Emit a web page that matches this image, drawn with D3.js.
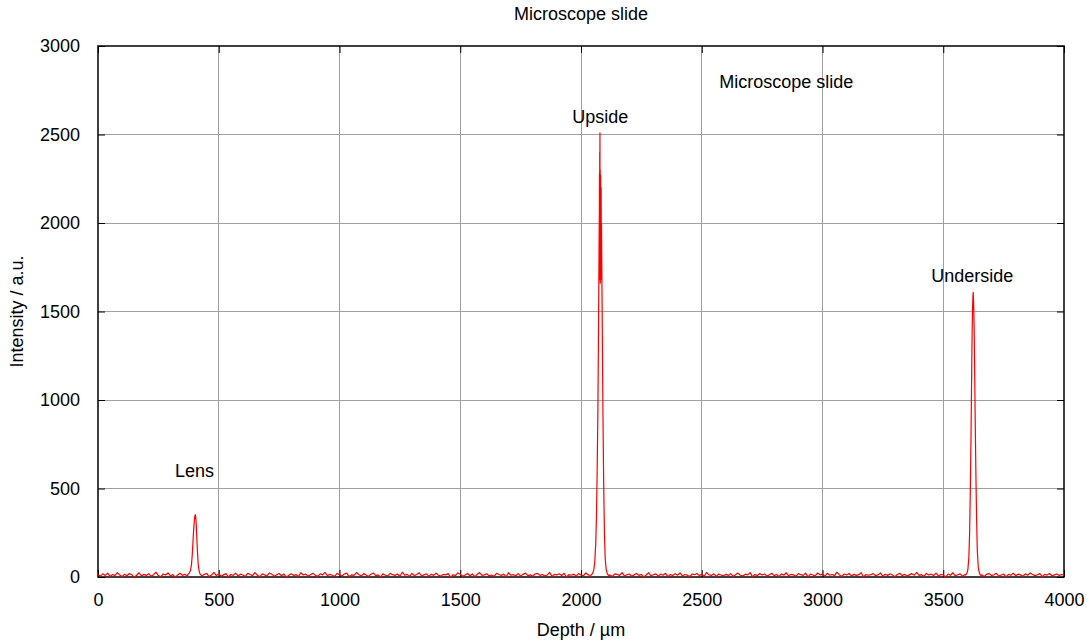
<!DOCTYPE html>
<html>
<head>
<meta charset="utf-8">
<script src="https://cdn.jsdelivr.net/npm/d3@7/dist/d3.min.js"></script>
<style>
  html, body { margin: 0; padding: 0; background: #fff; }
  svg text { font-family: "Liberation Sans", Arial, Helvetica, sans-serif; fill: #000; }
</style>
</head>
<body>
<svg id="chart" width="1087" height="643"></svg>
<script>
// ---------- DATA ----------
const chartTitle = "Microscope slide";
const xLabel = "Depth / µm";
const yLabel = "Intensity / a.u.";
const xTicks = [0, 500, 1000, 1500, 2000, 2500, 3000, 3500, 4000];
const yTicks = [0, 500, 1000, 1500, 2000, 2500, 3000];

// baseline noise, one reading every 10 µm from 0 to 4000 µm
const baselineStep = 10;
const baselineIntensity = [
  12, 5, 18, 9, 22, 3, 14, 8, 25, 11, 2, 16, 7, 20, 13, -3, 10, 24, 6, 15,
  9, 19, 4, 13, 27, 8, 1, 17, 11, 23, 6, 14, -2, 12, 21, 9, 16, 3, 18, 10,
  7, 24, 13, 5, 15, 20, 2, 11, 26, 8, 17, 4, 12, 19, 0, 14, 9, 22, 6, 16,
  11, 3, 21, 14, 8, 25, 10, 1, 18, 12, 6, 23, 15, 4, 13, 20, 7, 17, -1, 10,
  19, 8, 14, 2, 24, 11, 16, 5, 13, 21, 9, 3, 18, 12, 26, 7, 15, 10, 4, 20,
  13, 6, 17, 22, 1, 12, 9, 25, 14, 5, 19, 11, 3, 16, 23, 8, 12, 0, 18, 10,
  6, 21, 13, 9, 17, 4, 27, 11, 15, 2, 20, 8, 14, 24, 6, 12, 18, 3, 16, 9,
  22, 10, 5, 15, 12, 19, -2, 13, 8, 23, 16, 4, 11, 20, 7, 17, 2, 14, 25, 9,
  12, 18, 6, 11, 3, 21, 14, 9, 16, 1, 24, 10, 13, 7, 19, 5, 15, 22, 8, 12,
  4, 17, 20, 9, 14, 6, 11, 26, 3, 15, 12, 18, 8, 21, 0, 13, 10, 16, 5, 19,
  11, 7, 23, 13, 2, 16, 10, 19, 5, 14, 22, 8, 12, 3, 18, 15, 9, 25, 6, 13,
  17, 4, 12, 20, 9, 15, -1, 11, 24, 7, 13, 18, 5, 16, 10, 21, 2, 14, 8, 19,
  10, 23, 6, 14, 11, 1, 17, 13, 20, 8, 15, 4, 26, 12, 9, 18, 3, 16, 11, 7,
  15, 9, 19, 3, 13, 22, 10, 6, 16, 12, 25, 2, 14, 8, 20, 11, 17, 5, 13, 21,
  8, 14, 2, 18, 10, 24, 7, 15, 12, 4, 19, 13, 9, 22, 1, 16, 11, 6, 23, 12,
  16, 5, 21, 10, 14, 8, 27, 12, 3, 17, 11, 20, 6, 15, 9, 13, 24, 0, 14, 10,
  13, 19, 7, 12, 23, 4, 16, 9, 18, 11, 2, 14, 21, 8, 15, 5, 12, 19, 10, 26,
  9, 13, 3, 20, 11, 16, 8, 22, 6, 14, 12, -2, 17, 10, 24, 7, 13, 18, 4, 15,
  20, 11, 6, 14, 9, 25, 12, 3, 16, 19, 8, 13, 21, 5, 11, 17, 1, 15, 10, 22,
  7, 16, 12, 4, 18, 10, 23, 14, 8, 13, 19, 2, 15, 11, 20, 6, 12, 17, 9, 14,
  11
];

// peak regions (depth µm, intensity)
const lensDepth     = [372, 378, 383, 387, 390, 393, 396, 399, 401, 403, 405, 407, 409, 412, 415, 419, 423, 428];
const lensIntensity = [14, 22, 38, 70, 120, 190, 265, 320, 345, 352, 335, 290, 225, 140, 70, 32, 16, 9];

const upsideDepth     = [2042, 2048, 2053, 2057, 2061, 2064, 2067, 2070, 2072, 2074, 2075, 2076, 2076.5, 2077, 2077.5, 2078, 2078.5, 2079, 2079.5, 2080, 2080.5, 2081, 2081.5, 2082, 2082.5, 2083, 2083.5, 2084, 2085, 2086, 2087, 2089, 2091, 2094, 2097, 2100, 2104, 2109, 2115];
const upsideIntensity = [12, 20, 40, 85, 190, 340, 600, 950, 1300, 1700, 1900, 2050, 2280, 1720, 2400, 1680, 2510, 1700, 2300, 1660, 2250, 1700, 2270, 1680, 2150, 1750, 2200, 1850, 2000, 1800, 1600, 1250, 900, 520, 250, 110, 45, 18, 8];

const undersideDepth     = [3592, 3598, 3602, 3606, 3609, 3612, 3615, 3617, 3619, 3621, 3623, 3624, 3626, 3628, 3630, 3632, 3635, 3638, 3641, 3645, 3650, 3656];
const undersideIntensity = [11, 20, 42, 110, 240, 480, 800, 1060, 1320, 1500, 1590, 1608, 1540, 1400, 1180, 920, 600, 330, 150, 55, 20, 9];

// annotations (data coordinates)
const labelText = ["Lens", "Upside", "Underside", "Microscope slide"];
const labelX    = [400, 2080, 3620, 2850];
const labelY    = [600, 2600, 1700, 2800];

// ---------- BUILD SERIES ----------
const peakWindows = [
  [lensDepth, lensIntensity],
  [upsideDepth, upsideIntensity],
  [undersideDepth, undersideIntensity]
];
let points = [];
baselineIntensity.forEach((v, i) => {
  const d = i * baselineStep;
  const inPeak = peakWindows.some(([ds]) => d >= ds[0] && d <= ds[ds.length - 1]);
  if (!inPeak) points.push([d, v]);
});
peakWindows.forEach(([ds, vs]) => ds.forEach((d, i) => points.push([d, vs[i]])));
points.sort((a, b) => a[0] - b[0]);

// ---------- LAYOUT ----------
const svg = d3.select("#chart");
const pLeft = 98, pRight = 1064, pTop = 46, pBottom = 577;
const fontSize = 18;

const x = d3.scaleLinear().domain([0, 4000]).range([pLeft, pRight]);
const y = d3.scaleLinear().domain([0, 3000]).range([pBottom, pTop]);

// grid
const grid = svg.append("g").attr("stroke", "#a0a0a0").attr("stroke-width", 1).attr("shape-rendering", "crispEdges");
xTicks.slice(1, -1).forEach(t => {
  grid.append("line").attr("x1", x(t)).attr("x2", x(t)).attr("y1", pTop).attr("y2", pBottom);
});
yTicks.slice(1, -1).forEach(t => {
  grid.append("line").attr("x1", pLeft).attr("x2", pRight).attr("y1", y(t)).attr("y2", y(t));
});

// axes with inward ticks (mirrored)
const tickLen = 7;
const xAxisB = d3.axisBottom(x).tickValues(xTicks).tickSize(-tickLen).tickPadding(tickLen + 9).tickFormat(d3.format("d"));
const xAxisT = d3.axisTop(x).tickValues(xTicks).tickSize(-tickLen).tickFormat("");
const yAxisL = d3.axisLeft(y).tickValues(yTicks).tickSize(-tickLen).tickPadding(tickLen + 11).tickFormat(d3.format("d"));
const yAxisR = d3.axisRight(y).tickValues(yTicks).tickSize(-tickLen).tickFormat("");

function styleAxis(g) {
  g.select(".domain").remove();
  g.selectAll(".tick line").attr("stroke", "#000").attr("stroke-width", 1);
  g.selectAll(".tick text").attr("font-size", fontSize).attr("font-family", '"Liberation Sans", Arial, sans-serif').attr("fill", "#000");
}
svg.append("g").attr("transform", `translate(0,${pBottom})`).call(xAxisB).call(styleAxis);
svg.append("g").attr("transform", `translate(0,${pTop})`).call(xAxisT).call(styleAxis);
svg.append("g").attr("transform", `translate(${pLeft},0)`).call(yAxisL).call(styleAxis);
svg.append("g").attr("transform", `translate(${pRight},0)`).call(yAxisR).call(styleAxis);

// border
svg.append("rect")
  .attr("x", pLeft).attr("y", pTop)
  .attr("width", pRight - pLeft).attr("height", pBottom - pTop)
  .attr("fill", "none").attr("stroke", "#000").attr("stroke-width", 1.5);

// data line
const line = d3.line().x(d => x(d[0])).y(d => y(d[1]));
svg.append("path")
  .datum(points)
  .attr("d", line)
  .attr("fill", "none")
  .attr("stroke", "#ff0000")
  .attr("stroke-width", 1.2)
  .attr("stroke-linejoin", "round");

// annotations
labelText.forEach((t, i) => {
  svg.append("text")
    .attr("x", x(labelX[i])).attr("y", y(labelY[i]))
    .attr("dy", "0.35em")
    .attr("text-anchor", "middle")
    .attr("font-size", fontSize)
    .text(t);
});

// title & axis labels
svg.append("text").attr("x", (pLeft + pRight) / 2).attr("y", 20)
  .attr("text-anchor", "middle").attr("font-size", fontSize).text(chartTitle);
svg.append("text").attr("x", (pLeft + pRight) / 2).attr("y", 636)
  .attr("text-anchor", "middle").attr("font-size", fontSize).text(xLabel);
svg.append("text")
  .attr("transform", `translate(23,${(pTop + pBottom) / 2}) rotate(-90)`)
  .attr("text-anchor", "middle").attr("font-size", fontSize).text(yLabel);
</script>
</body>
</html>
